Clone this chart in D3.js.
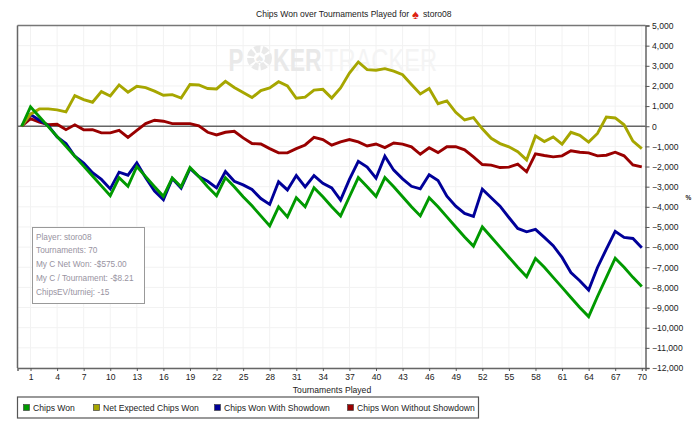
<!DOCTYPE html>
<html>
<head>
<meta charset="utf-8">
<script src="https://cdn.jsdelivr.net/npm/d3@7"></script>
<style>
  html, body { margin: 0; padding: 0; background: #fff; }
  text { font-family: "Liberation Sans", Arial, sans-serif; fill: #222; }
</style>
</head>
<body>
<div id="chart"></div>
<script>
// Tournament 0 is the starting point
var tournaments = d3.range(0, 71);
var xTickValues = d3.range(1, 71, 3);
var yTickValues = d3.range(-12000, 5001, 1000);

var chipsWon = [0, 960, 470, -20, -510, -1000, -1490, -1980, -2470, -2960, -3450,
  -2550, -2980, -2000, -2500, -3000, -3480, -2570, -3000, -2050, -2500,
  -3000, -3450, -2550, -3000, -3500, -3950, -4450, -4950, -4000, -4500,
  -3550, -4000, -3050, -3500, -4000, -4450, -3500, -2550, -3000, -3480,
  -2550, -3000, -3500, -4000, -4450, -3550, -4000, -4500, -5000, -5500,
  -5950, -5000, -5500, -6000, -6500, -7000, -7470, -6560, -7000, -7500,
  -8000, -8500, -9000, -9450, -8450, -7500, -6550, -7000, -7500, -7950];

var netExpected = [0, 600, 860, 860, 810, 710, 1520, 1320, 1190, 1720, 1500,
  2050, 1690, 1980, 1920, 1740, 1540, 1570, 1400, 2070, 2050,
  1870, 1850, 2230, 1920, 1670, 1420, 1770, 1900, 2210, 2000,
  1390, 1440, 1790, 1830, 1400, 1900, 2640, 3190, 2810, 2780,
  2860, 2730, 2560, 2070, 1600, 1870, 1120, 1260, 690, 310,
  430, -130, -600, -860, -1020, -1260, -1670, -480, -760, -530,
  -890, -300, -450, -790, -360, 460, 410, 70, -740, -1110];

var withShowdown = [0, 580, 300, 30, -530, -860, -1490, -1830, -2310, -2640, -3110,
  -2280, -2430, -1820, -2560, -3220, -3650, -2600, -3070, -2100, -2500,
  -2730, -3060, -2250, -2730, -2910, -3140, -3590, -3880, -2760, -3160,
  -2450, -3010, -2450, -2830, -3060, -3670, -2640, -1740, -2030, -2580,
  -1490, -2180, -2610, -2980, -3110, -2410, -2690, -3470, -3970, -4330,
  -4480, -3120, -3550, -3970, -4530, -5075, -5240, -5120, -5520, -5930,
  -6510, -7260, -7670, -8130, -7010, -6100, -5220, -5520, -5570, -6030];

var withoutShowdown = [0, 380, 200, 80, 100, -170, 70, -180, -170, -330, -330,
  -200, -550, -210, 130, 300, 250, 130, 130, 130, 20,
  -300, -430, -300, -250, -580, -860, -880, -1110, -1320, -1320,
  -1110, -930, -550, -660, -940, -780, -660, -780, -980, -880,
  -1060, -830, -890, -1020, -1390, -1070, -1310, -1020, -1010, -1170,
  -1520, -1900, -1930, -2050, -2030, -1880, -2260, -1370, -1450, -1520,
  -1470, -1220, -1290, -1320, -1470, -1440, -1290, -1470, -1920, -2020];

var legendLabels = ["Chips Won", "Net Expected Chips Won", "Chips Won With Showdown", "Chips Won Without Showdown"];
var legendColors = ["#009900", "#a6a600", "#000099", "#990000"];
var infoLines = ["Player: storo08", "Tournaments: 70", "My C Net Won: -$575.00", "My C / Tournament: -$8.21", "ChipsEV/turniej: -15"];

var svgWidth = 700;
var svgHeight = 428;
var margin = { top: 25.5, right: 54.5, bottom: 60, left: 17.5 };
var width = svgWidth - margin.left - margin.right;
var height = svgHeight - margin.top - margin.bottom;

var svg = d3.select("#chart").append("svg")
  .attr("width", svgWidth)
  .attr("height", svgHeight)
  .style("display", "block");

var chart = svg.append("g")
  .attr("transform", `translate(${margin.left}, ${margin.top})`);

var xScale = d3.scaleLinear().domain([-0.47, 70.42]).range([0, width]);
var yScale = d3.scaleLinear().domain([-12000, 5000]).range([height, 0]);

// grid
chart.append("g").selectAll("line").data(xTickValues).enter().append("line")
  .attr("x1", d => xScale(d)).attr("x2", d => xScale(d))
  .attr("y1", 0).attr("y2", height)
  .attr("stroke", "#f2f2f2");
chart.append("g").selectAll("line").data(yTickValues).enter().append("line")
  .attr("x1", 0).attr("x2", width)
  .attr("y1", d => yScale(d)).attr("y2", d => yScale(d))
  .attr("stroke", "#f2f2f2");

// watermark, squeezed sideways because the logo letters are narrow
var mark = chart.append("g").attr("font-weight", "bold").attr("font-size", 32);
mark.append("text").attr("transform", "translate(211, 45.5) scale(0.7, 1)")
  .style("fill", "#e9e9e9").text("P");
mark.append("circle").attr("cx", 242).attr("cy", 32.5).attr("r", 9)
  .attr("fill", "none").attr("stroke", "#e9e9e9").attr("stroke-width", 7).attr("stroke-dasharray", "5.5 2");
mark.append("text").attr("x", 242).attr("y", 37.5).attr("text-anchor", "middle")
  .attr("font-size", 14).style("fill", "#e9e9e9").text("♠");
mark.append("text").attr("transform", "translate(255.5, 45.5) scale(0.72, 1)")
  .style("fill", "#e9e9e9").text("KER");
mark.append("text").attr("transform", "translate(306.5, 45.5) scale(0.74, 1)")
  .attr("font-weight", "normal").style("fill", "#f4f4f4").text("TRACKER");

// frame
chart.append("line").attr("x1", 0).attr("x2", width).attr("y1", 0).attr("y2", 0)
  .attr("stroke", "#777").attr("stroke-width", 1.5);
chart.append("line").attr("x1", 0).attr("x2", 0).attr("y1", 0).attr("y2", height)
  .attr("stroke", "#666").attr("stroke-width", 1.5);
chart.append("line").attr("x1", 0).attr("x2", width).attr("y1", yScale(0)).attr("y2", yScale(0))
  .attr("stroke", "#666").attr("stroke-width", 1.5);

// axes
var bottomAxis = d3.axisBottom(xScale).tickValues(xTickValues).tickFormat(d3.format("d")).tickSizeOuter(0).tickSize(3).tickPadding(3);
var rightAxis = d3.axisRight(yScale).tickValues(yTickValues).tickFormat(d3.format(",")).tickSizeOuter(0).tickSize(4).tickPadding(2.5);

var xAxis = chart.append("g").attr("transform", `translate(0, ${height})`).call(bottomAxis);
var yAxis = chart.append("g").attr("transform", `translate(${width}, 0)`).call(rightAxis);
[xAxis, yAxis].forEach(function(axis) {
  axis.selectAll("text").attr("font-size", 8.6).style("font-family", '"Liberation Sans", Arial, sans-serif');
  axis.selectAll("line").attr("stroke", "#555");
  axis.select(".domain").attr("stroke", "#666").attr("stroke-width", 1.5);
});

// series
var lineGen = d3.line()
  .x((d, i) => xScale(tournaments[i]))
  .y(d => yScale(d));

[[withoutShowdown, 3], [withShowdown, 2], [netExpected, 1], [chipsWon, 0]].forEach(function(s) {
  chart.append("path")
    .datum(s[0])
    .attr("d", lineGen)
    .attr("fill", "none")
    .attr("stroke", legendColors[s[1]])
    .attr("stroke-width", 2.9)
    .attr("stroke-linejoin", "miter");
});

// info box
var info = svg.append("g").attr("transform", "translate(32.5, 227.5)");
info.append("rect").attr("width", 112).attr("height", 76)
  .attr("fill", "#fff").attr("stroke", "#999");
info.selectAll("text").data(infoLines).enter().append("text")
  .attr("x", 3.5)
  .attr("y", (d, i) => 12 + i * 13.85)
  .attr("font-size", 8.25)
  .style("fill", "#98939f")
  .text(d => d);

// titles
svg.append("text").attr("x", 256).attr("y", 17).attr("font-size", 8.55).text("Chips Won over Tournaments Played for");
svg.append("text").attr("x", 415.5).attr("y", 18.5).attr("text-anchor", "middle").attr("font-size", 13).style("fill", "#dd2211").text("♠");
svg.append("text").attr("x", 423).attr("y", 17).attr("font-size", 8.55).text("storo08");
svg.append("text").attr("x", 332).attr("y", 392.5).attr("text-anchor", "middle").attr("font-size", 8.6).text("Tournaments Played");
svg.append("text").attr("x", 688.5).attr("y", 199.5).attr("text-anchor", "middle").attr("font-size", 6.5).attr("font-weight", "bold").text("%");

// legend
var legend = svg.append("g").attr("transform", "translate(17.5, 397)");
legend.append("rect").attr("width", 461).attr("height", 21)
  .attr("fill", "#fff").attr("stroke", "#555").attr("stroke-width", 1.2);
var legendX = [6, 76, 197, 330];
var legendItems = legend.selectAll("g").data(legendLabels).enter().append("g")
  .attr("transform", (d, i) => `translate(${legendX[i]}, 0)`);
legendItems.append("rect").attr("y", 7.5).attr("width", 6).attr("height", 6)
  .attr("fill", (d, i) => legendColors[i]).attr("stroke", "#444").attr("stroke-width", 0.7);
legendItems.append("text").attr("x", 9.5).attr("y", 14).attr("font-size", 8.6).text(d => d);
</script>
</body>
</html>
